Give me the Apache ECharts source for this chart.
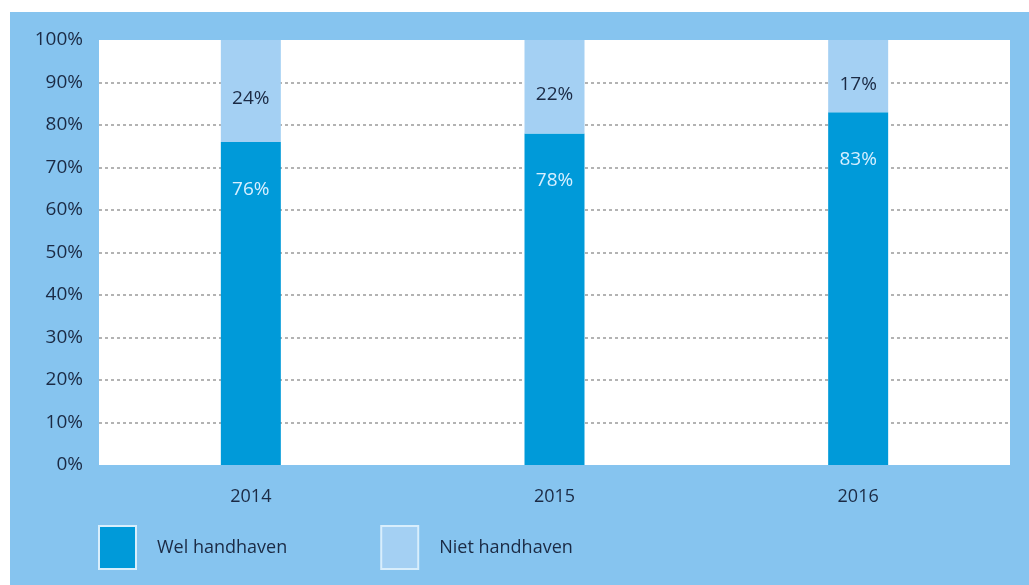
<!DOCTYPE html>
<html>
<head>
<meta charset="utf-8">
<script src="https://cdn.jsdelivr.net/npm/echarts@6/dist/echarts.min.js"></script>
<style>
html,body{margin:0;padding:0;background:#ffffff;}
#c{width:1029px;height:585px;}
</style>
</head>
<body>
<div id="c"></div>
<script>
const categories = ['2014', '2015', '2016'];
const welHandhaven = [76, 78, 83];
const nietHandhaven = [24, 22, 17];
const seriesNames = ['Wel handhaven', 'Niet handhaven'];
const yTicks = [0, 10, 20, 30, 40, 50, 60, 70, 80, 90, 100];

const FONT = '"Open Sans", "Noto Sans", sans-serif';
const chart = echarts.init(document.getElementById('c'), null, {renderer: 'canvas'});

chart.setOption({
  animation: false,
  backgroundColor: '#ffffff',
  graphic: [
    {type: 'rect', z: -10, shape: {x: 10, y: 12, width: 1019, height: 573}, style: {fill: '#86c4ef'}}
  ],
  grid: {
    left: 99, right: 19, top: 40, bottom: 120,
    show: true, backgroundColor: '#ffffff', borderWidth: 0
  },
  legend: {
    left: 98, top: 525, padding: 0,
    itemWidth: 37, itemHeight: 43, itemGap: 93,
    icon: 'rect',
    textStyle: {fontFamily: FONT, fontSize: 18, color: '#1b2a44', padding: [0, 0, 0, 16]},
    data: [
      {name: seriesNames[0], itemStyle: {borderColor: '#d8eefc', borderWidth: 2}},
      {name: seriesNames[1], itemStyle: {borderColor: '#d8eefc', borderWidth: 2}}
    ]
  },
  xAxis: {
    type: 'category',
    data: categories,
    axisLine: {show: false},
    axisTick: {show: false},
    axisLabel: {fontFamily: FONT, fontSize: 18, color: '#1b2a44', margin: 23}
  },
  yAxis: {
    type: 'value',
    min: 0, max: 100, interval: 10,
    axisLine: {show: false},
    axisTick: {show: false},
    axisLabel: {
      fontFamily: FONT, fontSize: 19, color: '#1b2a44', margin: 16,
      formatter: v => (yTicks.includes(v) ? v + '%' : '')
    },
    splitLine: {
      show: true,
      showMinLine: false,
      showMaxLine: false,
      lineStyle: {color: '#9a9a9a', type: [3, 3], width: 1.5}
    }
  },
  series: [
    {
      name: seriesNames[0],
      type: 'bar',
      stack: 'total',
      barWidth: 60,
      data: welHandhaven,
      itemStyle: {color: '#009ad9'},
      label: {
        show: true, position: 'insideTop', distance: 38,
        formatter: p => p.value + '%',
        fontFamily: FONT, fontSize: 19, color: '#d7efff'
      }
    },
    {
      name: seriesNames[1],
      type: 'bar',
      stack: 'total',
      barWidth: 60,
      data: nietHandhaven,
      itemStyle: {color: '#a4d0f3'},
      label: {
        show: true, position: 'inside', offset: [0, 8],
        formatter: p => p.value + '%',
        fontFamily: FONT, fontSize: 19, color: '#1b2a44'
      }
    }
  ]
});
</script>
</body>
</html>
